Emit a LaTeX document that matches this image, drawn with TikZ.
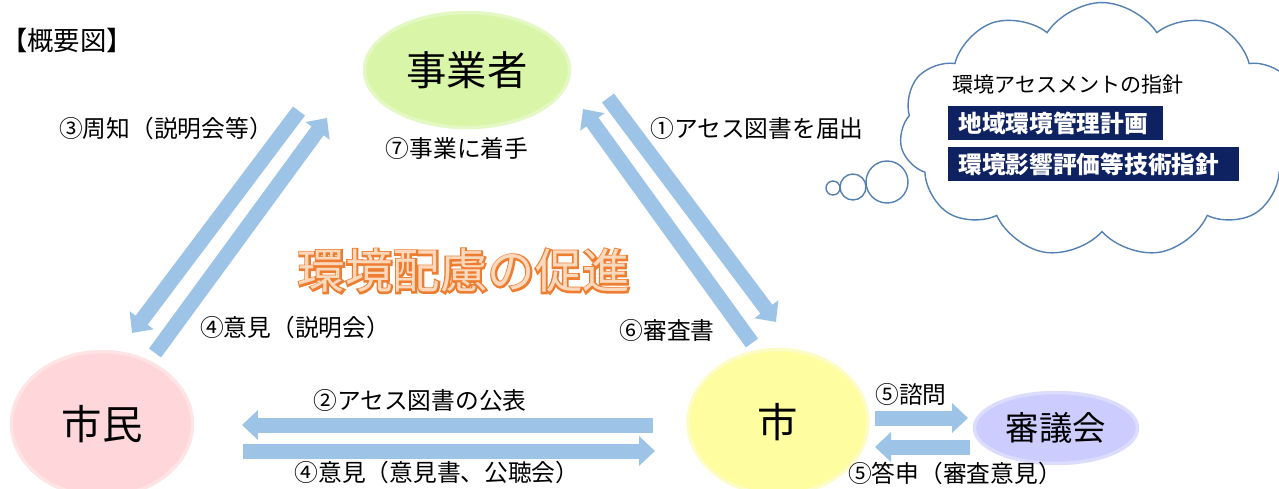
\documentclass[tikz,border=0pt]{standalone}
\usepackage{fontspec}
\setmainfont{Noto Sans CJK JP}
\newfontfamily\outlinefont{Noto Sans CJK JP}[FakeBold=7]
\usetikzlibrary{arrows.meta}
\usetikzlibrary{shapes}

\definecolor{flowblue}{RGB}{157,195,230}
\definecolor{jgreen}{RGB}{216,245,168}
\definecolor{jgreenedge}{RGB}{228,248,196}
\definecolor{spink}{RGB}{255,214,217}
\definecolor{spinkedge}{RGB}{255,228,230}
\definecolor{syellow}{RGB}{254,253,160}
\definecolor{syellowedge}{RGB}{253,252,196}
\definecolor{klav}{RGB}{204,204,255}
\definecolor{klavedge}{RGB}{220,220,255}
\definecolor{cloudblue}{RGB}{84,128,178}
\definecolor{navy}{RGB}{14,33,96}
\definecolor{torange}{RGB}{237,125,49}
\definecolor{tpeach}{RGB}{252,216,188}

\begin{document}
\begin{tikzpicture}[x=0.02cm,y=-0.02cm,
  flow/.style={line width=0.3cm,flowblue,-{Triangle[width=0.58cm,length=0.32cm]}},
  lbl/.style={font=\fontsize{13.5pt}{16pt}\selectfont}]
\useasboundingbox (0,0) rectangle (1279,488);

\node(T0) at (67,40) [font=\fontsize{15pt}{18pt}\selectfont]{【概要図】};

% actors
\node(J) at (467,70) [ellipse,fill=jgreen,draw=jgreenedge,line width=2pt,minimum width=4.1cm,minimum height=2.3cm]{\fontsize{23pt}{26pt}\selectfont 事業者};
\node(M) at (102,424) [ellipse,fill=spink,draw=spinkedge,line width=2pt,minimum width=3.62cm,minimum height=2.9cm]{\fontsize{23pt}{26pt}\selectfont 市民};
\node(S) at (778,422) [ellipse,fill=syellow,draw=syellowedge,line width=2pt,minimum width=3.6cm,minimum height=2.9cm]{\fontsize{23pt}{26pt}\selectfont 市};
\node(K) at (1056,428) [ellipse,fill=klav,draw=klavedge,line width=2pt,minimum width=3.26cm,minimum height=1.42cm]{\fontsize{19pt}{22pt}\selectfont 審議会};

% cloud
\node(c1) at (833,188) [circle,draw=cloudblue,fill=white,line width=0.8pt,minimum size=0.28cm,inner sep=0pt]{};
\node(c2) at (853,187) [circle,draw=cloudblue,fill=white,line width=0.8pt,minimum size=0.52cm,inner sep=0pt]{};
\node(c3) at (887,182) [circle,draw=cloudblue,fill=white,line width=0.8pt,minimum size=0.84cm,inner sep=0pt]{};
\node(W) at (1102,130) [cloud,cloud puffs=11,cloud puff arc=115,aspect=1.6,draw=cloudblue,fill=white,line width=0.8pt,minimum width=8.1cm,minimum height=5.1cm]{};
\node(H) at (946,84) [anchor=west,font=\fontsize{12pt}{14pt}\selectfont]{環境アセスメントの指針};
\node(P1) at (948,123) [anchor=west,fill=navy,text=white,inner xsep=0.2cm,text width=3.9cm,minimum height=0.64cm,align=left,font=\fontsize{13.5pt}{16pt}\selectfont\bfseries]{地域環境管理計画};
\node(P2) at (948,164) [anchor=west,fill=navy,text=white,inner xsep=0.2cm,text width=5.42cm,minimum height=0.64cm,align=left,font=\fontsize{13.5pt}{16pt}\selectfont\bfseries]{環境影響評価等技術指針};

% title
\node(T) at (464,271) {\fontsize{27pt}{30pt}\selectfont\rlap{\outlinefont\color{torange}環境配慮の促進}\color{tpeach}環境配慮の促進};

% arrow ends
\coordinate (a1) at (299,111); \coordinate (a2) at (132,333);
\coordinate (b1) at (155,353); \coordinate (b2) at (327,118);
\coordinate (d1) at (608,98);  \coordinate (d2) at (776,322);
\coordinate (e1) at (752,343); \coordinate (e2) at (583,109);
\coordinate (f1) at (653,425); \coordinate (f2) at (242,425);
\coordinate (g1) at (243,451); \coordinate (g2) at (655,451);
\coordinate (h1) at (875,418); \coordinate (h2) at (968,418);
\coordinate (k1) at (970,447); \coordinate (k2) at (875,447);

\draw[flow] (a1) -- (a2);
\draw[flow] (b1) -- (b2);
\draw[flow] (d1) -- (d2);
\draw[flow] (e1) -- (e2);
\draw[flow] (f1) -- (f2);
\draw[flow] (g1) -- (g2);
\draw[flow] (h1) -- (h2);
\draw[flow] (k1) -- (k2);

% labels
\node(L3) at (166,128) [lbl]{③周知（説明会等）};
\node(L1) at (757,128) [lbl]{①アセス図書を届出};
\node(L7) at (457,148) [lbl]{⑦事業に着手};
\node(L4) at (295,327) [lbl]{④意見（説明会）};
\node(L6) at (667,330) [lbl]{⑥審査書};
\node(L2) at (420,400) [lbl]{②アセス図書の公表};
\node(L4b) at (437,472) [lbl]{④意見（意見書、公聴会）};
\node(L5) at (911,394) [lbl]{⑤諮問};
\node(L5b) at (955,473) [lbl]{⑤答申（審査意見）};
\end{tikzpicture}
\end{document}
